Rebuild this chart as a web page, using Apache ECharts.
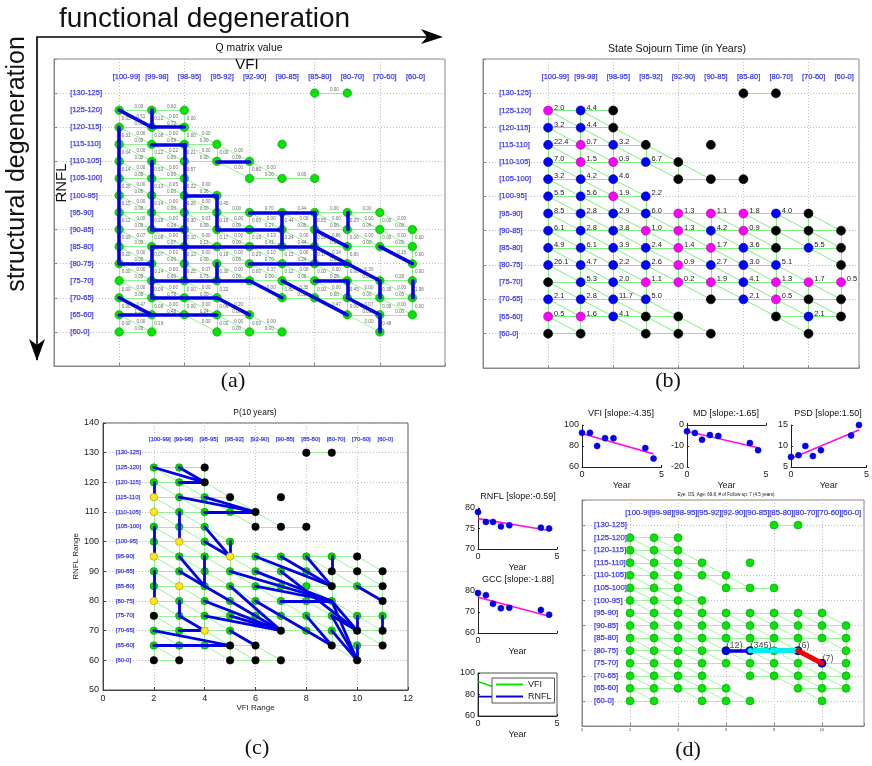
<!DOCTYPE html>
<html><head><meta charset="utf-8">
<style>html,body{margin:0;padding:0;background:#fff}#c{width:872px;height:766px}</style>
<script src="https://cdn.jsdelivr.net/npm/echarts@6/dist/echarts.min.js"></script>
</head><body><div id="c"></div>
<script>
// ---------- data ----------
const rowValues=[130,125,120,115,110,105,100,95,90,85,80,75,70,65,60];
const rowLabels=['[130-125]','[125-120]','[120-115]','[115-110]','[110-105]','[105-100]','[100-95]','[95-90]','[90-85]','[85-80]','[80-75]','[75-70]','[70-65]','[65-60]','[60-0]'];
const colValues=[2,3,4,5,6,7,8,9,10,11];
const colLabels=['[100-99]','[99-98]','[98-95]','[95-92]','[92-90]','[90-85]','[85-80]','[80-70]','[70-60]','[60-0]'];
const stateRows=[[8,9],[2,3,4],[2,3,4],[2,3,4,5,7],[2,3,4,5,6],[2,3,4,6,7,8],[2,3,4,5],
 [2,3,4,5,6,7,8,9,10],[2,3,4,5,6,7,8,9,10,11],[2,3,4,5,6,7,8,9,10,11],[2,3,4,5,6,7,8,9,11],
 [2,3,4,5,6,7,8,9,10,11],[2,3,4,5,7,8,9,10,11],[2,3,4,5,6,9,10,11],[2,3,5,6,7,10]];
const noEdges=['5,100>6,95'];
// panel (a) heavy transitions
const qHeavy=[[2,125,3,120],[3,125,3,120],[3,120,4,120],[2,120,2,80],[3,115,4,115],[4,115,4,75],[5,110,6,110],
 [3,110,3,90],[3,90,4,90],[4,100,5,100],[5,100,5,90],[5,90,7,90],[7,95,7,85],[6,95,8,95],[8,95,8,80],[8,90,9,85],
 [9,95,9,90],[3,85,8,85],[8,85,10,75],[10,75,10,70],[3,85,3,70],[2,80,3,80],[6,80,9,80],[5,80,5,75],[3,75,6,75],
 [6,75,7,70],[3,70,5,70],[5,70,6,65],[2,70,3,65],[2,65,5,65],[7,75,9,65],[8,75,9,75],[9,75,9,70],[9,70,10,65],
 [10,65,10,60],[10,85,11,80],[11,75,11,70]];
const qVertical={'2,125':'0.05','2,120':'0.31','2,115':'0.04','2,110':'0.14','2,105':'0.26','2,100':'0.15','2,95':'0.11','2,90':'0.09','2,85':'0.20',
 '3,125':'0.22','3,120':'0.08','3,115':'0.22','3,110':'0.53','3,105':'0.13','3,100':'0.14','3,95':'0.28','3,90':'0.08','3,85':'0.07','3,80':'0.14','3,75':'0.09','3,70':'0.08','3,65':'0.16',
 '4,115':'0.21','4,110':'0.57','4,105':'0.22','4,100':'0.26','4,95':'0.30','4,90':'0.10','4,85':'0.13','4,80':'0.25',
 '5,100':'0.45','5,95':'0.16','5,90':'0.17','5,85':'0.16','5,80':'0.30','5,75':'0.22','5,70':'0.06',
 '6,110':'0.80','6,90':'0.19','6,85':'0.20','7,95':'0.44','7,90':'0.24','7,85':'0.15','7,80':'0.12','7,75':'0.80',
 '8,95':'0.55','8,90':'0.59','8,85':'0.17','8,70':'0.07','9,95':'0.25','9,85':'0.80','9,75':'0.45','10,75':'0.39','10,70':'0.08','10,65':'0.48','11,75':'1.98'};
const qHorizontal={'3,120':'0.72','4,100':'0.36','6,95':'0.70','7,95':'0.44','6,90':'0.27','6,85':'0.41','7,85':'0.44','6,80':'0.70','7,80':'0.24','8,75':'0.28','10,75':'0.28',
 '4,75':'0.73','3,70':'0.78','3,65':'0.48','4,65':'0.24','2,65':'1.56','3,115':'0.09','3,85':'0.07','3,90':'0.18','4,85':'0.13','9,80':'0.06','9,90':'0.06'};
const qDiagonal={'2,125':'0.51','6,80':'0.37','6,85':'0.10','6,90':'0.19','8,85':'0.14','8,90':'0.66','10,85':'0.15','9,80':'0.30','9,70':'0.07','7,75':'0.35','8,70':'0.47','5,70':'0.20','2,70':'0.47','4,80':'0.07','3,85':'0.02','2,90':'0.07','3,115':'0.22','4,95':'0.03','3,105':'0.05'};
// panel (b) sojourn times, aligned with stateRows
const sojournRows=[[null,null],['2.0','4.4',null],['3.2','4.4',null],['22.4','0.7','3.2',null,null],['7.0','1.5','0.9','6.7',null],
 ['3.2','4.2','4.6',null,null,null],['5.5','5.6','1.9','2.2'],['8.5','2.8','2.9','6.0','1.3','1.1','1.8','4.0',null],
 ['6.1','2.8','3.8','1.0','1.3','4.2','0.9',null,null,null],['4.9','6.1','3.9','2.4','1.4','1.7','3.6',null,'5.5',null],
 ['26.1','4.7','2.2','2.6','0.9','2.7','3.0','5.1',null],[null,'5.3','2.0','1.1','0.2','1.9','4.1','1.3','1.7','0.5'],
 ['2.1','2.8','11.7','5.0',null,'2.1','0.5',null,null],['0.5','1.6','4.1',null,null,null,'2.1',null],[null,null,null,null,null,null]];
const shortStayExtra=['2,125'];
// panel (c)
const pBlack=['8,130','9,130','4,125','4,120','5,115','7,115','6,110','6,105','7,105','8,105','10,95','9,90','10,90','11,90','9,85','11,85','11,80','2,75','7,70','10,70','11,70','5,65','6,65','9,65','11,65','2,60','3,60','5,60','6,60','7,60','10,60'];
const pYellow=['2,115','2,110','3,100','2,95','5,95','3,85','2,80','4,70'];
const pHeavy=[[2,125,4,120],[3,125,4,120],[3,120,4,120],[2,120,2,115],[3,115,6,110],[4,115,6,110],[4,110,6,110],[3,110,3,100],[2,105,2,95],
 [4,105,5,95],[4,100,5,95],[5,100,5,95],[2,90,2,80],[3,95,4,85],[3,90,7,70],[4,95,4,85],[5,85,7,70],[4,80,7,70],[4,75,7,70],[5,75,7,70],
 [3,80,3,75],[3,75,4,70],[3,70,4,70],[2,70,5,65],[2,65,5,65],[5,70,6,65],[6,95,9,85],[7,95,9,85],[8,95,9,85],[9,95,9,90],[5,90,9,80],[6,90,9,80],
 [7,90,10,70],[6,85,9,80],[7,80,9,80],[9,80,10,70],[9,75,10,70],[6,80,9,65],[8,75,9,65],[9,80,10,60],[9,75,10,60],[9,70,10,60],[10,75,10,70],[10,65,10,60],[10,85,11,80],[11,75,11,70]];
// panel (d)
const pathSegments=[[6,80,7,80],[7,80,9,80],[9,80,10,75]];
const pathColors=['#0000e0','#00f0f0','#f00000'];
const pathNodes=[[6,80,'(12)'],[7,80,'(345)'],[9,80,'(6)'],[10,75,'(7)']];
// small trend panels
const years=[0,0.5,0.95,1.45,1.98,3.98,4.5];
const vfiValues=[92.6,92.6,80,87.5,87.5,78,68];
const mdValues=[-3,-3.8,-7,-4.8,-5.2,-8.6,-12];
const psdValues=[7.4,7.8,10,7.6,9,12.5,15];
const rnflValues=[79,76.6,76.6,75.5,75.8,75.2,75];
const gccValues=[79,78,73.9,71.8,72,71,68.7];
const trendYears=[0,4.5];
const vfiTrend=[92,72.5], mdTrend=[-3,-10.8], psdTrend=[7,13.8], rnflTrend=[77.4,74.5], gccTrend=[77,68];
const legendVfi=[[0,92],[1,87]], legendRnfl=[[0,78],[1,78]];

// ---------- builders ----------
const FONT='"Liberation Sans",Arial,sans-serif';
const nodes=[];stateRows.forEach((r,i)=>r.forEach((x,j)=>nodes.push({x,y:rowValues[i],s:sojournRows[i][j]})));
const has=new Set(nodes.map(n=>n.x+','+n.y));
const edges={h:[],v:[],d:[]};
nodes.forEach(n=>{
 [['h',n.x+1,n.y],['v',n.x,n.y-5],['d',n.x+1,n.y-5]].forEach(([t,x,y])=>{
  if(has.has(x+','+y)&&!noEdges.includes(n.x+','+n.y+'>'+x+','+y))edges[t].push([n.x,n.y,x,y]);});});
const allEdges=[...edges.h,...edges.v,...edges.d];
const grids=[],xAxes=[],yAxes=[],series=[];
function panel(g,x,y){const i=grids.length;grids.push(g);xAxes.push(Object.assign({gridIndex:i,type:'value'},x));yAxes.push(Object.assign({gridIndex:i,type:'value'},y));return i;}
const dotted={show:true,lineStyle:{color:'#bdbdbd',type:[1,2],width:1}};
function boxAxis(color,fs,max,min,interval,extra){return Object.assign({min,max,interval,axisLine:{show:true,lineStyle:{color,width:1}},axisTick:{show:true,inside:true,length:3,lineStyle:{color}},axisLabel:{show:fs>0,fontSize:fs,color:'#222',fontFamily:FONT,margin:4},splitLine:dotted},extra||{});}
function lines(i,segs,color,width,z){series.push({type:'lines',coordinateSystem:'cartesian2d',xAxisIndex:i,yAxisIndex:i,silent:true,z:z,lineStyle:{color,width,opacity:1,cap:'round'},data:segs.map(s=>({coords:[[s[0],s[1]],[s[2],s[3]]]}))});}
function dots(i,pts,color,size,border,z,label){series.push({type:'scatter',xAxisIndex:i,yAxisIndex:i,silent:true,z:z,symbolSize:size,itemStyle:{color,borderColor:border,borderWidth:0.6,opacity:1},label:label||{show:false},data:pts});}
function texts(i,pts,fs,color,offset,extra){series.push({type:'scatter',xAxisIndex:i,yAxisIndex:i,silent:true,z:6,symbolSize:0,itemStyle:{color:'rgba(0,0,0,0)'},
 label:Object.assign({show:true,position:'right',distance:0,offset:offset||[0,0],fontSize:fs,color,fontFamily:FONT,formatter:p=>p.value[2]},extra||{}),data:pts});}
const axisLabelStyle={backgroundColor:'#fff',textBorderColor:'#1a1af0',textBorderWidth:0.25};
function axisText(i,fs,colY){texts(i,rowValues.map((v,k)=>[0.5,v,rowLabels[k]]),fs,'#1010f0',[0,0],axisLabelStyle);texts(i,colValues.map((v,k)=>[v-0.2,colY,colLabels[k]]),fs,'#1010f0',[0,0],axisLabelStyle);}
const pts=k=>k.split(',').map(Number);

// (a)
const A=panel({left:54,top:59,width:391,height:307,show:true,borderColor:'#888',borderWidth:1},boxAxis('#888',0,12,0,2),boxAxis('#888',0,140,50,10));
lines(A,allEdges,'#8ef58e',1,2);dots(A,nodes.map(n=>[n.x,n.y]),'#00e600',8.5,'#1e8c1e',3);lines(A,qHeavy,'#0000e6',3.6,4);
axisText(A,7.5,134.8);
const lv=e=>[(e[0]+e[2])/2,(e[1]+e[3])/2];
texts(A,edges.h.map(e=>[...lv(e),qHorizontal[e[0]+','+e[1]]||'0.00']),4.6,'#444',[-1,-3.5]);
texts(A,edges.v.map(e=>[...lv(e),qVertical[e[0]+','+e[1]]||'0.00']),4.6,'#444',[2.5,0]);
texts(A,edges.d.map(e=>[...lv(e),qDiagonal[e[0]+','+e[1]]||'0.00']),4.6,'#444',[1,-2]);

// (b)
const B=panel({left:483,top:59,width:376,height:309,show:true,borderColor:'#888',borderWidth:1},boxAxis('#888',0,376/32.55,0,2),boxAxis('#888',0,140,50,10));
lines(B,allEdges,'#7ff07f',1,2);
const isShort=n=>n.s!==null&&(parseFloat(n.s)<2||shortStayExtra.includes(n.x+','+n.y));
const valLabel={show:true,position:'right',distance:1,offset:[0,-3],fontSize:7.5,color:'#222',fontFamily:FONT,formatter:p=>p.value[2]};
dots(B,nodes.filter(n=>n.s===null).map(n=>[n.x,n.y]),'#000',9,'#000',3);
dots(B,nodes.filter(n=>n.s!==null&&isShort(n)).map(n=>[n.x,n.y,n.s]),'#ff00ff',9,'#a000a0',3,valLabel);
dots(B,nodes.filter(n=>n.s!==null&&!isShort(n)).map(n=>[n.x,n.y,n.s]),'#0000ff',9,'#0000a0',3,valLabel);
axisText(B,7.5,134.9);

// (c)
const C=panel({left:103,top:423,width:305,height:267,show:true,borderColor:'#555',borderWidth:1},
 boxAxis('#444',9,12,0,2,{name:'VFI Range',nameLocation:'middle',nameGap:13,nameTextStyle:{fontSize:8,color:'#222',fontFamily:FONT}}),
 boxAxis('#444',9,140,50,10,{name:'RNFL Range',nameLocation:'middle',nameGap:21,nameTextStyle:{fontSize:8,color:'#222',fontFamily:FONT}}));
lines(C,allEdges,'#7ff07f',0.8,2);
const special=new Set([...pBlack,...pYellow]);
dots(C,nodes.filter(n=>!special.has(n.x+','+n.y)).map(n=>[n.x,n.y]),'#00dc00',7.5,'#008c00',3);
dots(C,pYellow.map(pts),'#ffe81a',7.5,'#a09000',5);
dots(C,pBlack.map(pts),'#000',7.5,'#000',5);
lines(C,pHeavy,'#0000e6',2.8,4);
axisText(C,6,134.4);

// (d) main
const D=panel({left:582,top:500,width:282,height:226,show:true,borderColor:'#888',borderWidth:1},
 boxAxis('#888',4,11.75,0,2,{axisLabel:{show:true,fontSize:4,color:'#444',margin:2,fontFamily:FONT,formatter:v=>v%2===0?String(v):''}}),boxAxis('#888',0,140,50,10));
lines(D,allEdges,'#8ef58e',0.9,2);
dots(D,nodes.map(n=>[n.x,n.y]),'#00e600',8,'#1e8c1e',3);
dots(D,pathNodes,'#0000e6',8,'#0000a0',4);
pathSegments.forEach((s,k)=>lines(D,[s],pathColors[k],k===0?3.6:5,5));
texts(D,pathNodes,9,'#222',[0.5,-5]);
axisText(D,7.8,134.8);

// small panels
function trend(i,vals,tv){series.push({type:'line',xAxisIndex:i,yAxisIndex:i,silent:true,showSymbol:false,symbol:'none',lineStyle:{color:'#ff10e0',width:1.6},z:2,data:trendYears.map((y,k)=>[y,tv[k]])});
 dots(i,years.map((y,k)=>[y,vals[k]]),'#0000f0',6,'#0000f0',3);}
function small(g,min,max,interval,xl){
 const ax=()=>({axisLine:{show:true,lineStyle:{color:'#222'}},axisTick:{show:true,inside:true,length:2,lineStyle:{color:'#222'}},axisLabel:{fontSize:9,color:'#222',fontFamily:FONT,margin:3},splitLine:{show:false}});
 return panel(g,Object.assign(ax(),{min:0,max:5,interval:5,name:'Year',nameLocation:'middle',nameGap:14,nameTextStyle:{fontSize:9,color:'#222',fontFamily:FONT}},xl||{}),Object.assign(ax(),{min,max,interval}));
}
const V=small({left:582,top:425,width:79.5,height:42},60,100,20);trend(V,vfiValues,vfiTrend);
const M=small({left:687,top:425,width:79,height:42},-20,0,10);trend(M,mdValues,mdTrend);
const P=small({left:791,top:425,width:78,height:42},5,15,5);trend(P,psdValues,psdTrend);
const R=small({left:478,top:508,width:79,height:41},70,80,5);trend(R,rnflValues,rnflTrend);
const G=small({left:478,top:591,width:79,height:42},60,80,10,{axisLabel:{fontSize:9,color:'#222',fontFamily:FONT,margin:3,formatter:v=>v===0?'0':''}});trend(G,gccValues,gccTrend);
const L=small({left:478,top:673,width:79,height:43,show:true,borderColor:'#555',borderWidth:1},60,100,20);
series.push({name:'VFI',type:'line',xAxisIndex:L,yAxisIndex:L,symbol:'none',silent:true,lineStyle:{color:'#00e600',width:1.6},itemStyle:{color:'#00e600'},data:legendVfi});
series.push({name:'RNFL',type:'line',xAxisIndex:L,yAxisIndex:L,symbol:'none',silent:true,lineStyle:{color:'#0000e6',width:1.6},itemStyle:{color:'#0000e6'},data:legendRnfl});

// free text and arrows
const tx=(text,x,y,font,align,rot,color)=>({type:'text',x,y,rotation:rot||0,z:20,style:{text,font,fill:color||'#111',textAlign:align||'center',textVerticalAlign:'middle'}});
const sans=s=>s+'px '+FONT, serif=s=>s+'px "Liberation Serif",serif';
const graphic=[
 tx('functional degeneration',59,19,sans(28),'left'),
 tx('structural degeneration',17,164,sans(25),'center',Math.PI/2),
 tx('VFI',247,65,sans(15)),
 tx('RNFL',62,183,sans(15),'center',Math.PI/2),
 tx('Q matrix value',249,48,sans(10.4)),
 tx('State Sojourn Time (in Years)',677,49,sans(10.6)),
 tx('P(10 years)',255,413,sans(8.4)),
 tx('(a)',233,381,serif(22)),tx('(b)',668,381,serif(22)),tx('(c)',257,748,serif(22)),tx('(d)',688,750,serif(22)),
 tx('VFI [slope:-4.35]',621,414,sans(9)),tx('MD [slope:-1.65]',726,414,sans(9)),tx('PSD [slope:1.50]',828,414,sans(9)),
 tx('RNFL [slope:-0.59]',518,497,sans(9)),tx('GCC [slope:-1.88]',518,580,sans(9)),
 tx('Eye: OS, Age: 69.8, # of Follow-up: 7 (4.5 years)',726,495,sans(4.5)),
 {type:'polyline',z:20,shape:{points:[[37,360],[37,37],[430,37]]},style:{stroke:'#000',lineWidth:1.6,fill:null}},
 {type:'polygon',z:20,shape:{points:[[443,37],[421,29],[427,37],[421,44]]},style:{fill:'#000'}},
 {type:'polygon',z:20,shape:{points:[[37,361],[29,339],[37,345],[45,339]]},style:{fill:'#000'}}
];

const chart=echarts.init(document.getElementById('c'),null,{renderer:'canvas',width:872,height:766});
chart.setOption({animation:false,backgroundColor:'#fff',grid:grids,xAxis:xAxes,yAxis:yAxes,series,graphic,
 legend:{data:['VFI','RNFL'],icon:'rect',selectedMode:false,orient:'vertical',left:492,top:678,itemWidth:27,itemHeight:2,itemGap:3,padding:[2,3,2,4],
  backgroundColor:'#fff',borderColor:'#555',borderWidth:1,textStyle:{fontSize:9,color:'#222',fontFamily:FONT}}});
</script></body></html>
